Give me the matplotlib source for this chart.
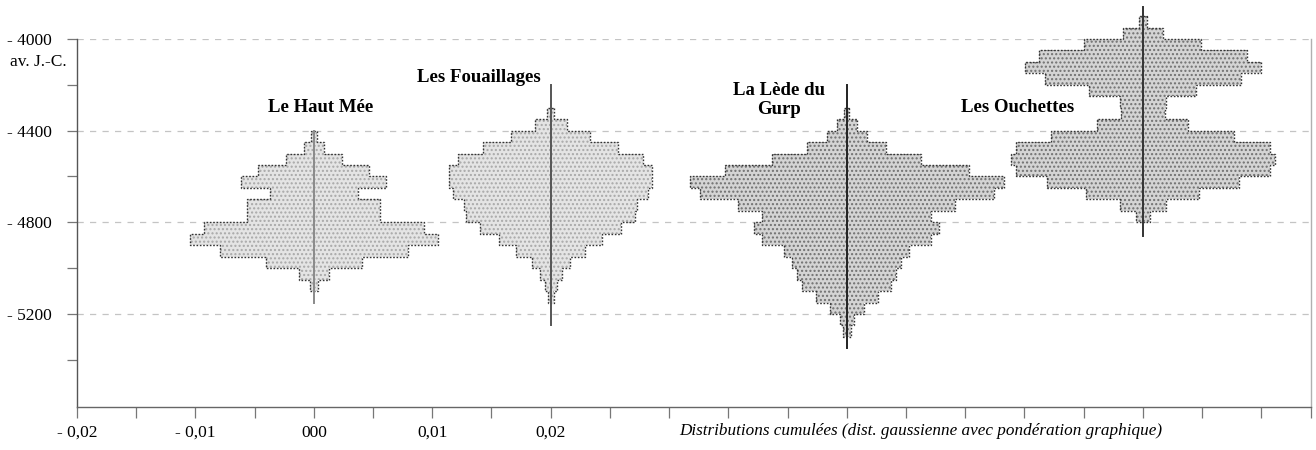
import matplotlib
matplotlib.use("Agg")
import matplotlib.pyplot as plt
import numpy as np

# ---------------- data ----------------
sites = ["Le Haut Mée", "Les Fouaillages", "La Lède du\nGurp", "Les Ouchettes"]
centers = [0.0, 0.02, 0.045, 0.07]
bin_years = 50
# first (youngest) bin top for each site, in years (negative = BC)
bin_tops = [-4400, -4300, -4300, -3900]
# half widths per 50-year bin, in units of 0.001
haut_mee = [0.23, 0.85, 2.38, 4.68, 6.12, 3.74, 5.61, 5.61, 9.27, 10.46, 7.91, 4.08, 1.28, 0.34]
fouaillages = [0.30, 1.36, 3.32, 5.70, 7.82, 8.59, 8.59, 8.25, 7.31, 7.14, 5.95, 4.34,
               2.89, 1.62, 0.94, 0.51, 0.26]
lede_gurp = [0.21, 0.85, 1.70, 3.32, 6.29, 10.29, 13.26, 12.41, 9.18, 7.14, 7.82, 7.14,
             5.27, 4.59, 4.17, 3.74, 2.64, 1.45, 0.60, 0.34]
ouchettes = [0.34, 1.70, 4.93, 8.76, 9.95, 8.25, 4.51, 1.96, 1.87, 3.83, 7.74, 10.71,
             11.14, 10.71, 8.08, 4.76, 1.96, 0.60]
half_widths = [haut_mee, fouaillages, lede_gurp, ouchettes]
# central axis line extent (top, bottom)
line_extent = [(-4400, -5150), (-4200, -5250), (-4200, -5350), (-3860, -4860)]
label_pos = [(0.0006, -4297), (0.0139, -4170), (0.0393, -4266), (0.0594, -4297)]

y_major = [-4000, -4400, -4800, -5200]
y_ticks = [-4000, -4200, -4400, -4600, -4800, -5000, -5200, -5400]
y_ticklabels = ["- 4000", "", "- 4400", "", "- 4800", "", "- 5200", ""]
x_label_vals = [-0.02, -0.01, 0.0, 0.01, 0.02]
x_label_text = ["- 0,02", "- 0,01", "000", "0,01", "0,02"]
x_title = "Distributions cumulées (dist. gaussienne avec pondération graphique)"

# ---------------- style ----------------
SERIF = ["Liberation Serif", "DejaVu Serif"]
plt.rcParams["font.family"] = SERIF
plt.rcParams["hatch.linewidth"] = 1.0
FS = 12.5

fig = plt.figure(figsize=(13.16, 4.5), dpi=100)
W, H = 1316, 450
ax = fig.add_axes([77 / W, 1 - 407 / H, (1311 - 77) / W, (407 - 39) / H])
ax.set_xlim(-0.02, 0.0842)
ax.set_ylim(-5606, -4000)

fills = ["#e4e4e4", "#e4e4e4", "#d4d4d4", "#d4d4d4"]
hatch_cols = ["#a8a8a8", "#a8a8a8", "#707070", "#707070"]
line_cols = ["#8a8a8a", "#555555", "#222222", "#333333"]

for c, top, hw, fc, hc, (lt, lb), lc in zip(centers, bin_tops, half_widths, fills,
                                             hatch_cols, line_extent, line_cols):
    hw = np.array(hw) * 1e-3
    tops = top - bin_years * np.arange(len(hw))
    bots = tops - bin_years
    ys_r = np.ravel(np.column_stack([tops, bots]))
    xs_r = np.repeat(c + hw, 2)
    xs = np.concatenate([xs_r, (2 * c - xs_r)[::-1]])
    ys = np.concatenate([ys_r, ys_r[::-1]])
    ax.fill(xs, ys, facecolor=fc, edgecolor=hc, lw=0, hatch="....", zorder=2,
            clip_on=False)
    ax.fill(xs, ys, facecolor="none", edgecolor="#333333", lw=1.0,
            linestyle=(0, (1.2, 1.2)), zorder=3, clip_on=False)
    ax.plot([c, c], [lt, lb], color=lc, lw=1.4, zorder=4, clip_on=False)

for name, (lx, ly) in zip(sites, label_pos):
    ax.text(lx, ly, name, ha="center", va="center", fontsize=13.5,
            fontweight="bold", linespacing=1.1, zorder=5)

for yv in y_major:
    ax.axhline(yv, color="#c4c4c4", lw=0.9, linestyle=(0, (5, 5)), zorder=1)

# spines
ax.spines["top"].set_visible(False)
ax.spines["left"].set_color("#555555")
ax.spines["bottom"].set_color("#666666")
ax.spines["right"].set_color("#b0b0b0")
for s in ["left", "bottom", "right"]:
    ax.spines[s].set_linewidth(1.0)

ax.set_yticks(y_ticks)
ax.set_yticklabels(y_ticklabels)
ax.tick_params(axis="y", direction="out", length=7, width=0.9, color="#777777",
               pad=11, labelsize=FS)

xt = list(np.round(np.arange(-0.02, 0.0801, 0.005), 4)) + [0.0842]
xl = []
for v in xt:
    match = [t for lv, t in zip(x_label_vals, x_label_text) if abs(lv - v) < 1e-9]
    xl.append(match[0] if match else "")
ax.set_xticks(xt)
ax.set_xticklabels(xl)
ax.tick_params(axis="x", direction="out", length=8, width=0.9, color="#777777",
               pad=5, labelsize=FS)

fig.text(67 / W, 1 - 62 / H, "av. J.-C.", ha="right", va="center", fontsize=FS)
fig.text(921 / W, 1 - 431 / H, x_title, ha="center", va="center", fontsize=12.3,
         style="italic")

fig.savefig("out.png", dpi=100)
